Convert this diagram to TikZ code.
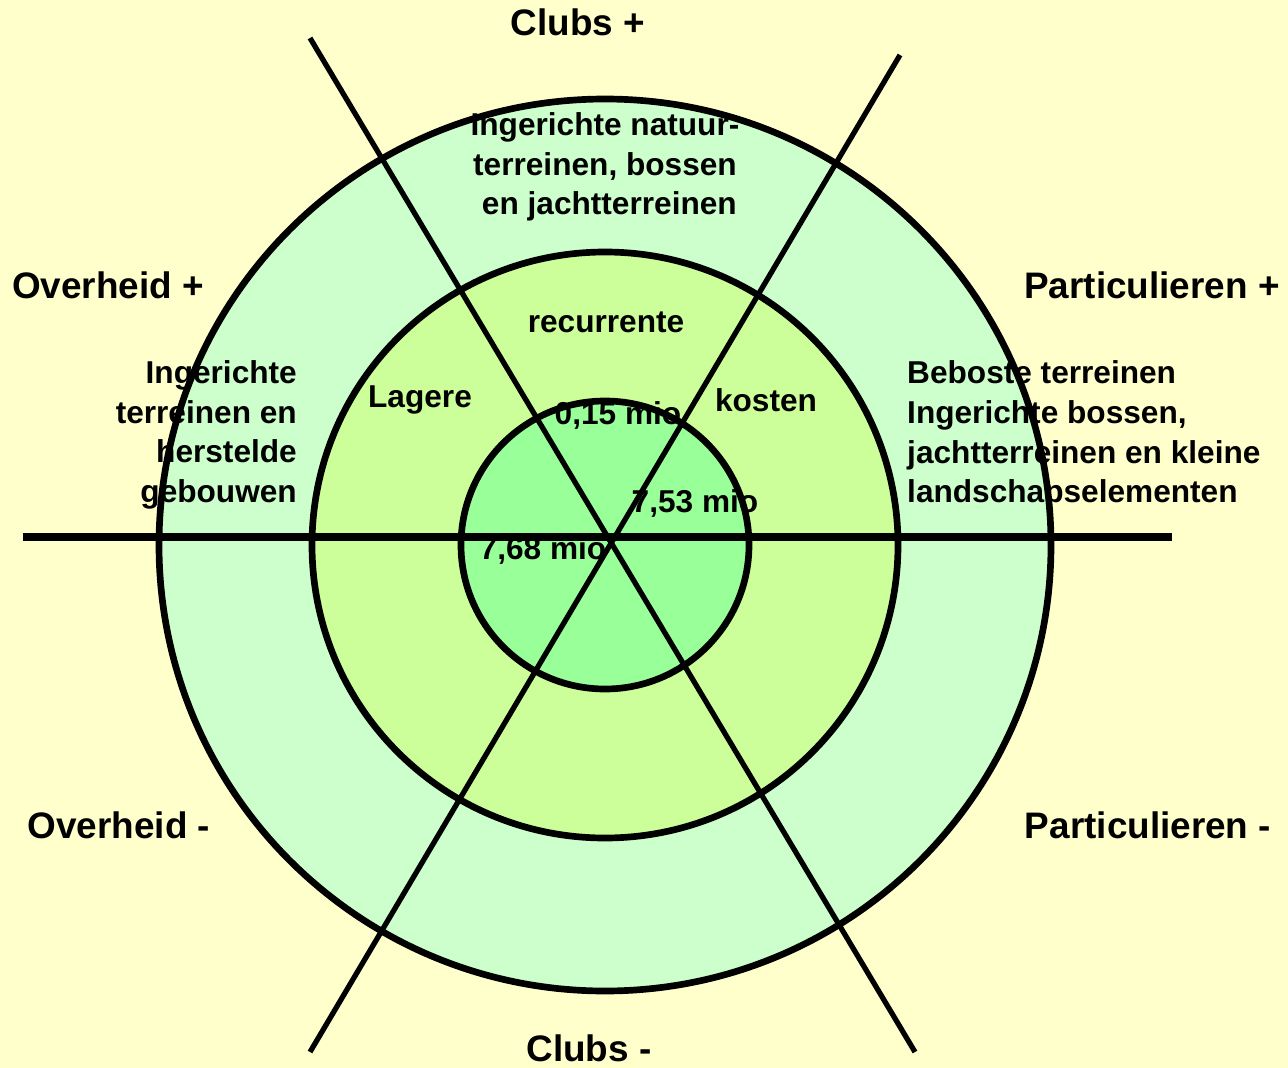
\documentclass[tikz,border=0pt]{standalone}
\usepackage{fontspec}
\setmainfont{Liberation Sans}
\usepackage{tikz}

\definecolor{bgyellow}{HTML}{FFFFCC}
\definecolor{ringout}{HTML}{CCFFCC}
\definecolor{ringmid}{HTML}{CCFF99}
\definecolor{ringin}{HTML}{99FF99}

\tikzset{
    sidelabel/.style={font=\fontsize{21}{25}\selectfont\bfseries},
    ringtext/.style={font=\fontsize{18}{22.6}\selectfont\bfseries},
    ring/.style={draw=black, line width=3.8pt},
}

\begin{document}
\begin{tikzpicture}[x=0.02cm, y=-0.02cm]
        \fill[bgyellow] (0,0) rectangle (1288,1068) ;
        \useasboundingbox (0,0) rectangle (1288,1068) ;
        \filldraw[ring, fill=ringout] (605,545) circle (446) ;
        \filldraw[ring, fill=ringmid] (605,545) circle (293) ;
        \filldraw[ring, fill=ringin] (605,545) circle (144) ;
        \draw[black, line width=4pt] (23,537) -- (1172,537) ;
        \draw[black, line width=3pt] (310,38) -- (915,1052) ;
        \draw[black, line width=3pt] (900,55) -- (310,1052) ;
        \node[sidelabel] (clubsplus) at (578,22) {Clubs +} ;
        \node[sidelabel] (clubsmin) at (589,1048) {Clubs -} ;
        \node[sidelabel] (overplus) at (108,285) {Overheid +} ;
        \node[sidelabel] (overmin) at (119,825) {Overheid -} ;
        \node[sidelabel] (partplus) at (1152,285) {Particulieren +} ;
        \node[sidelabel] (partmin) at (1148,825) {Particulieren -} ;
        \node[ringtext, align=center] (clubstext) at (605,167) {Ingerichte natuur-\\terreinen, bossen\\\ en jachtterreinen} ;
        \node[ringtext, align=right, anchor=east] (overtext) at (303,435) {Ingerichte\\terreinen en\\herstelde\\gebouwen} ;
        \node[ringtext, align=left, anchor=west] (parttext) at (901,435) {Beboste terreinen\\Ingerichte bossen,\\jachtterreinen en kleine\\landschapselementen} ;
        \node[ringtext] (recurrent) at (606,322) {recurrente} ;
        \node[ringtext] (lower) at (420,400) {Lagere} ;
        \node[ringtext] (costs) at (766,400) {kosten} ;
        \node[ringtext] (clubsmio) at (618,415) {0,15 mio} ;
        \node[ringtext] (partmio) at (695,503) {7,53 mio} ;
        \node[ringtext] (overmio) at (543,550) {7,68 mio} ;
    \end{tikzpicture}
\end{document}
